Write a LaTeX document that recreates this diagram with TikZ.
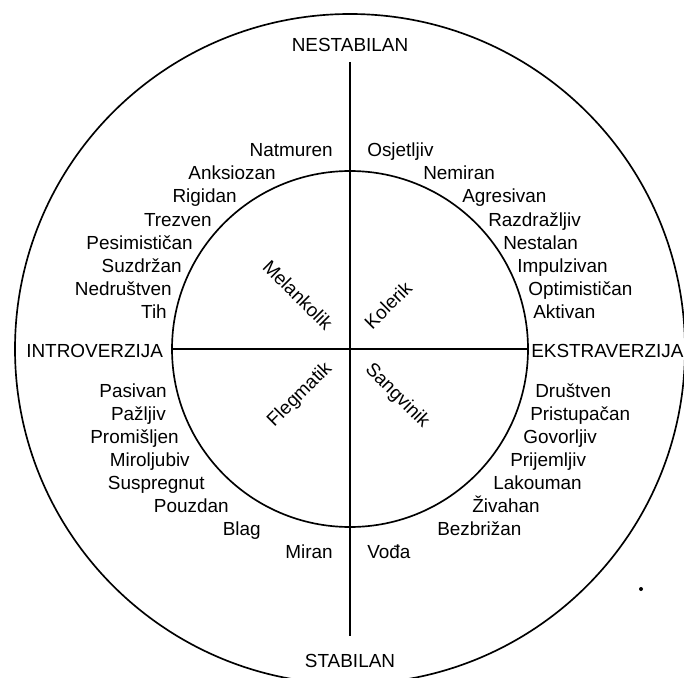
\documentclass[tikz,border=0pt]{standalone}
\usepackage{fontspec}
\setmainfont{Liberation Sans}
\begin{document}
\begin{tikzpicture}[x=0.75pt,y=-0.75pt,
  every node/.style={font=\fontsize{14.2}{17}\selectfont, inner sep=0pt},
  lft/.style={anchor=base east},
  rgt/.style={anchor=base west},
  axis/.style={anchor=base},
  ring/.style={draw, circle, line width=1.25pt, inner sep=0pt},
  rule/.style={line width=1.25pt}]
\useasboundingbox (0,0) rectangle (684,677);
\node[ring, minimum size=502.5pt] (outer) at (350,349) {};
\node[ring, minimum size=267pt] (inner) at (350,349) {};
\coordinate (vt) at (350,62);
\coordinate (vb) at (350,636);
\draw[rule] (vt) -- (vb);
\draw[rule] (inner.west) -- (inner.east);
% axis labels
\node[axis] (nest) at (350,52) {NESTABILAN};
\node[axis] (stab) at (350,667) {STABILAN};
\node[anchor=base west] (intro) at (26,357) {INTROVERZIJA};
\node[anchor=base west] (ekstra) at (531,357) {EKSTRAVERZIJA};
% temperaments
\node[rotate=-45] (mel) at (298,295) {Melankolik};
\node[rotate=45] (kol) at (388,305) {Kolerik};
\node[rotate=45] (fle) at (300,395) {Flegmatik};
\node[rotate=-45] (san) at (397,396) {Sangvinik};
% upper left
\node[lft] (l1) at (333,157) {Natmuren};
\node[lft] (l2) at (276,180) {Anksiozan};
\node[lft] (l3) at (237,203) {Rigidan};
\node[lft] (l4) at (212,226) {Trezven};
\node[lft] (l5) at (193,249) {Pesimističan};
\node[lft] (l6) at (182,272) {Suzdržan};
\node[lft] (l7) at (172,295) {Nedruštven};
\node[lft] (l8) at (167,318) {Tih};
% upper right
\node[rgt] (r1) at (367,157) {Osjetljiv};
\node[rgt] (r2) at (423,180) {Nemiran};
\node[rgt] (r3) at (462,203) {Agresivan};
\node[rgt] (r4) at (488,226) {Razdražljiv};
\node[rgt] (r5) at (503,249) {Nestalan};
\node[rgt] (r6) at (517,272) {Impulzivan};
\node[rgt] (r7) at (528,295) {Optimističan};
\node[rgt] (r8) at (533,318) {Aktivan};
% lower left
\node[lft] (b1) at (167,397) {Pasivan};
\node[lft] (b2) at (166,420) {Pažljiv};
\node[lft] (b3) at (179,443) {Promišljen};
\node[lft] (b4) at (190,466) {Miroljubiv};
\node[lft] (b5) at (205,489) {Suspregnut};
\node[lft] (b6) at (229,512) {Pouzdan};
\node[lft] (b7) at (261,535) {Blag};
\node[lft] (b8) at (333,558) {Miran};
% lower right
\node[rgt] (c1) at (535,397) {Društven};
\node[rgt] (c2) at (530,420) {Pristupačan};
\node[rgt] (c3) at (523,443) {Govorljiv};
\node[rgt] (c4) at (510,466) {Prijemljiv};
\node[rgt] (c5) at (493,489) {Lakouman};
\node[rgt] (c6) at (472,512) {Živahan};
\node[rgt] (c7) at (437,535) {Bezbrižan};
\node[rgt] (c8) at (367,558) {Vođa};
% speck
\fill (641,589) circle[radius=2];
\end{tikzpicture}
\end{document}
